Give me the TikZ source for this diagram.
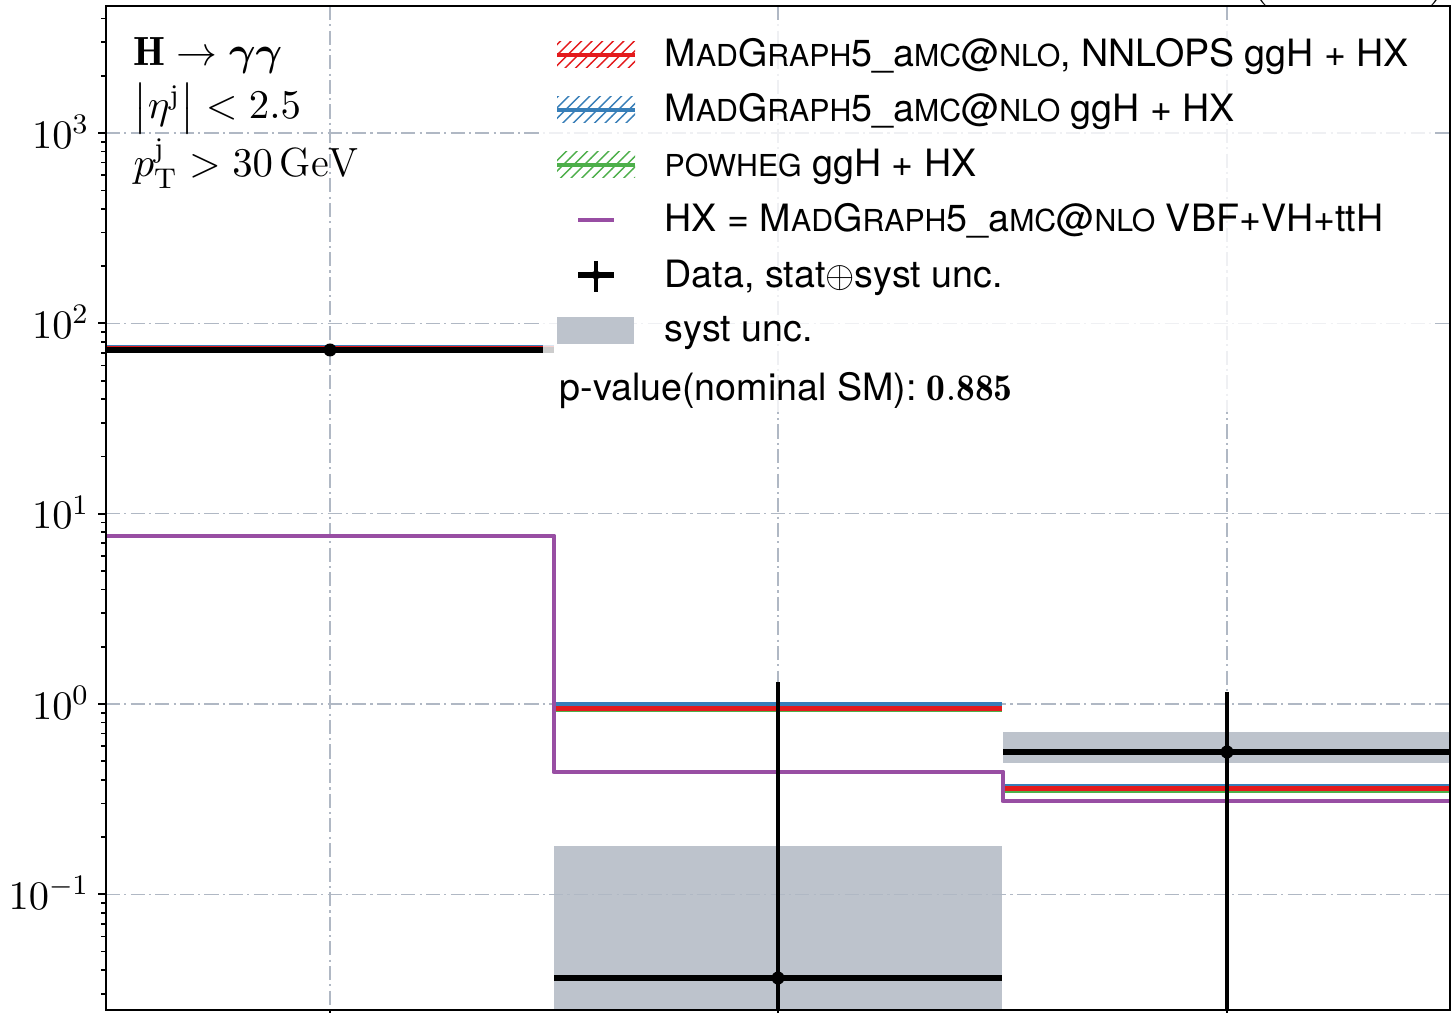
\RequirePackage{fix-cm}
\documentclass[tikz,border=0pt]{standalone}
\usepackage{amsmath}
\usepackage{fontspec}
\setsansfont{TeX Gyre Heros}
\usetikzlibrary{patterns}

\definecolor{mgred}{HTML}{E41A1C}
\definecolor{mgblue}{HTML}{377EB8}
\definecolor{pwgreen}{HTML}{4DAF4A}
\definecolor{hxpurple}{HTML}{984EA3}
\definecolor{systgray}{RGB}{189,195,204}
\definecolor{gridgray}{RGB}{176,184,196}

\newcommand{\legfont}{\sffamily\fontsize{10.7}{13}\selectfont}
\newcommand{\fsc}[1]{{\fontsize{8.6}{10}\selectfont #1}}
\newcommand{\ticfont}{\fontsize{11.5}{14}\selectfont}
\newcommand{\cutfont}{\fontsize{11.6}{14}\selectfont}
\newcommand{\mgfive}{M\fsc{AD}G\fsc{RAPH}5\_a\fsc{MC}@\fsc{NLO}}

\tikzset{
    gridline/.style={gridgray, line width=0.35pt, dash pattern=on 4pt off 1.2pt on 0.6pt off 1.2pt},
    mcline/.style={line width=1.4pt},
    hxline/.style={hxpurple, line width=1.4pt, line join=round},
    dataline/.style={black, line width=1.6pt},
    errbar/.style={black, line width=1.2pt},
    legtext/.style={anchor=base west, inner sep=0pt, font=\legfont},
    ticklab/.style={anchor=base east, inner sep=0pt, font=\ticfont},
    cuttext/.style={anchor=base west, inner sep=0pt, font=\cutfont}
}

\begin{document}
\begin{tikzpicture}[x=0.01cm, y=-0.01cm]
    \useasboundingbox (0,0) rectangle (1452,1013);

    \begin{scope}
        \clip (106,6) rectangle (1450,1010);
        % syst bands
        \fill[systgray] (554,846) rectangle (1002,1010);
        \fill[systgray] (1003,732) rectangle (1450,763);
        % grid
        \foreach \gx in {330,778,1227}
            \draw[gridline] (\gx,6) -- (\gx,1010);
        \foreach \e in {-1,...,3}
            \draw[gridline] (106,{704-190.3*\e}) -- (1450,{704-190.3*\e});
        % predictions
        \draw[mcline, mgblue] (106,347) -- (554,347);
        \draw[mcline, pwgreen] (106,349) -- (554,349);
        \draw[mcline, mgred] (106,348) -- (554,348);
        \draw[mcline, mgblue] (554,704) -- (1002,704);
        \draw[mcline, pwgreen] (554,709.5) -- (1002,709.5);
        \draw[mcline, mgred] (554,708.3) -- (1002,708.3);
        \draw[mcline, mgblue] (1003,786.5) -- (1450,786.5);
        \draw[mcline, pwgreen] (1003,790.5) -- (1450,790.5);
        \draw[mcline, mgred] (1003,788.8) -- (1450,788.8);
        % HX
        \draw[hxline] (106,536) -- (554,536) -- (554,772) -- (1003,772) -- (1003,801) -- (1450,801);
        % data
        \draw[dataline] (106,350) -- (554,350);
        \draw[dataline] (554,978) -- (1002,978);
        \draw[dataline] (1003,752) -- (1450,752);
        \draw[errbar] (330,345) -- (330,355);
        \draw[errbar] (778,682) -- (778,1010);
        \draw[errbar] (1227,692) -- (1227,1010);
        \fill (330,350) circle[radius=0.65mm];
        \fill (778,978) circle[radius=0.65mm];
        \fill (1227,752) circle[radius=0.65mm];
    \end{scope}

    % legend
    \fill[white, opacity=0.8] (543,20) rectangle (1432,412);
    \foreach \yc/\col in {55/mgred, 110/mgblue, 165/pwgreen} {
        \fill[pattern=north east lines, pattern color=\col] (557,{\yc-13}) rectangle (635,{\yc+13});
        \draw[\col, line width=1.3pt] (557,\yc) -- (635,\yc);
    }
    \draw[hxline] (578,220) -- (614,220);
    \draw[dataline] (578,275) -- (614,275);
    \draw[errbar] (596,261) -- (596,292);
    \fill (596,275) circle[radius=0.45mm];
    \fill[systgray] (557,317) rectangle (634,344);

    \node[legtext] (legnnlops) at (664,67) {\mgfive, NNLOPS ggH + HX};
    \node[legtext] (legmg) at (664,122) {\mgfive{} ggH + HX};
    \node[legtext] (legpw) at (664,177) {\fsc{POWHEG} ggH + HX};
    \node[legtext] (leghx) at (664,232) {HX = \mgfive{} VBF+VH+ttH};
    \node[legtext] (legdata) at (664,288) {Data, stat$\oplus$syst unc.};
    \node[legtext] (legsyst) at (664,342) {syst unc.};
    \node[legtext] (pval) at (559,401) {p-value(nominal SM): $\mathbf{0.885}$};

    % cuts
    \node[cuttext] (cutH) at (133,66) {$\mathbf{H}\rightarrow\boldsymbol{\gamma\gamma}$};
    \node[cuttext] (cuteta) at (133,119) {$\left|\eta^{\mathrm{j}}\right|<2.5$};
    \node[cuttext] (cutpt) at (133,177) {$p_{\mathrm{T}}^{\mathrm{j}}>30\,\mathrm{GeV}$};

    % energy label, cut off by the page
    \node[anchor=base west, inner sep=0pt, font=\fontsize{16}{19}\selectfont] (energy) at (1249,-7.5) {(13 TeV)};

    % axes
    \draw[line width=0.7pt] (106,6) rectangle (1450,1010);
    \foreach \e in {-1,...,3} {
        \draw[line width=0.6pt] (98,{704-190.3*\e}) -- (106,{704-190.3*\e});
        \node[ticklab] (ylab\e) at (90,{719-190.3*\e}) {$10^{\e}$};
    }
    \begin{scope}
        \clip (90,6) rectangle (107,1010);
        \foreach \e in {-2,...,3}
            \foreach \m in {2,...,9}
                \draw[line width=0.5pt] (101,{704-190.3*(\e+log10(\m))}) -- (106,{704-190.3*(\e+log10(\m))});
    \end{scope}
    \foreach \gx in {330,778,1227}
        \draw[line width=0.6pt] (\gx,1010) -- (\gx,1018);
\end{tikzpicture}
\end{document}
